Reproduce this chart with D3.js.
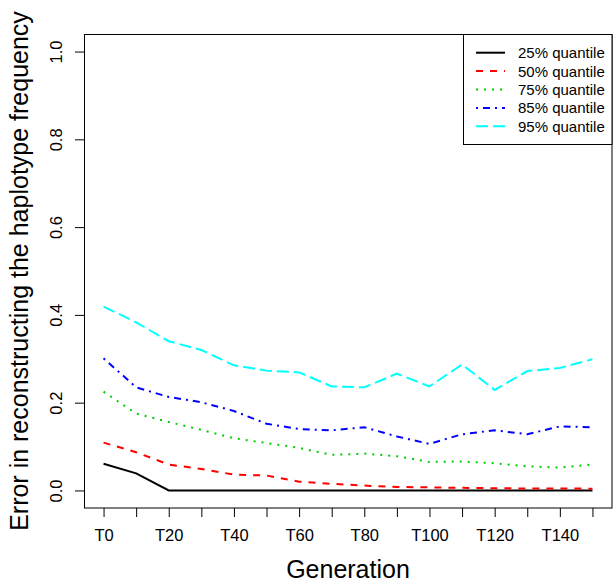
<!DOCTYPE html>
<html>
<head>
<meta charset="utf-8">
<script src="https://cdn.jsdelivr.net/npm/d3@7"></script>
<style>
  body { margin: 0; background: #fff; }
  svg { display: block; font-family: "Liberation Sans", Arial, Helvetica, sans-serif; }
</style>
</head>
<body>
<div id="chart"></div>
<script>
// Generations T0..T150 (every 10)
const generations = ["T0","T10","T20","T30","T40","T50","T60","T70","T80","T90","T100","T110","T120","T130","T140","T150"];
const yTicks = [0, 0.2, 0.4, 0.6, 0.8, 1.0];

// Quantile series
const q25 = [0.061, 0.039, 0, 0, 0, 0, 0, 0, 0, 0, 0, 0, 0, 0, 0, 0];
const q50 = [0.109, 0.087, 0.059, 0.049, 0.036, 0.034, 0.020, 0.015, 0.011, 0.008, 0.007, 0.006, 0.005, 0.0045, 0.0045, 0.004];
const q75 = [0.225, 0.175, 0.156, 0.138, 0.119, 0.108, 0.097, 0.081, 0.084, 0.078, 0.065, 0.066, 0.062, 0.055, 0.052, 0.059];
const q85 = [0.301, 0.235, 0.213, 0.201, 0.181, 0.152, 0.140, 0.137, 0.144, 0.123, 0.106, 0.128, 0.137, 0.128, 0.146, 0.144];
const q95 = [0.419, 0.383, 0.340, 0.320, 0.285, 0.273, 0.269, 0.237, 0.235, 0.266, 0.237, 0.287, 0.229, 0.272, 0.279, 0.299];

const seriesNames = ["25% quantile", "50% quantile", "75% quantile", "85% quantile", "95% quantile"];
const seriesColors = ["#000000", "#FF0000", "#00CD00", "#0000FF", "#00FFFF"];
const seriesDash = [null, "7,7", "2,6", "2,5,7,5", "12,5"];
const seriesValues = [q25, q50, q75, q85, q95];

const W = 613, H = 586;
const box = {left: 84, right: 612, top: 34, bottom: 508};

const svg = d3.select("#chart").append("svg")
  .attr("width", W)
  .attr("height", H);

// R style 4% axis extension
const x = d3.scaleLinear()
  .domain([-0.6, generations.length - 1 + 0.6])
  .range([box.left, box.right]);

const y = d3.scaleLinear()
  .domain([-0.04, 1.04])
  .range([box.bottom, box.top]);

// x axis - every tick drawn, every other label shown
const xAxis = svg.append("g")
  .attr("transform", `translate(0,${box.bottom})`)
  .call(d3.axisBottom(x)
    .tickValues(d3.range(generations.length))
    .tickSize(9)
    .tickPadding(16)
    .tickFormat(i => i % 2 === 0 ? generations[i] : ""));
xAxis.select(".domain").remove();
xAxis.selectAll("line").attr("stroke", "#000");
xAxis.selectAll("text")
  .attr("fill", "#000")
  .style("font-size", "16.5px")
  .attr("dy", 0)
  .attr("y", 33);

// y axis with rotated labels
const yAxis = svg.append("g")
  .attr("transform", `translate(${box.left},0)`)
  .call(d3.axisLeft(y)
    .tickValues(yTicks)
    .tickSize(9)
    .tickFormat(d3.format(".1f")));
yAxis.select(".domain").remove();
yAxis.selectAll("line").attr("stroke", "#000");
yAxis.selectAll("text")
  .attr("fill", "#000")
  .style("font-size", "16.5px")
  .attr("x", null)
  .attr("dy", null)
  .attr("text-anchor", "middle")
  .attr("transform", "translate(-22,0) rotate(-90)");

// plot frame
svg.append("rect")
  .attr("x", box.left + 0.5)
  .attr("y", box.top + 0.5)
  .attr("width", box.right - box.left - 0.5)
  .attr("height", box.bottom - box.top - 0.5)
  .attr("fill", "none")
  .attr("stroke", "#000")
  .attr("stroke-width", 1);

// lines
const line = d3.line()
  .x((d, i) => x(i))
  .y(d => y(d));

seriesValues.forEach((vals, k) => {
  svg.append("path")
    .datum(vals)
    .attr("fill", "none")
    .attr("stroke", seriesColors[k])
    .attr("stroke-width", 2)
    .attr("stroke-dasharray", seriesDash[k])
    .attr("d", line);
});

// axis titles
svg.append("text")
  .attr("x", (box.left + box.right) / 2)
  .attr("y", 578)
  .attr("text-anchor", "middle")
  .style("font-size", "25px")
  .text("Generation");

svg.append("text")
  .attr("transform", `translate(28,${(box.top + box.bottom) / 2}) rotate(-90)`)
  .attr("text-anchor", "middle")
  .style("font-size", "25px")
  .text("Error in reconstructing the haplotype frequency");

// legend
const lg = svg.append("g");
lg.append("rect")
  .attr("x", 463.5)
  .attr("y", box.top + 0.5)
  .attr("width", box.right - 463.5)
  .attr("height", 110)
  .attr("fill", "#fff")
  .attr("stroke", "#000");

seriesNames.forEach((name, k) => {
  const cy = 52.7 + k * 18.4;
  lg.append("line")
    .attr("x1", 476).attr("x2", 505)
    .attr("y1", cy).attr("y2", cy)
    .attr("stroke", seriesColors[k])
    .attr("stroke-width", 2)
    .attr("stroke-dasharray", seriesDash[k]);
  lg.append("text")
    .attr("x", 518)
    .attr("y", cy + 5.4)
    .style("font-size", "15px")
    .text(name);
});
</script>
</body>
</html>
